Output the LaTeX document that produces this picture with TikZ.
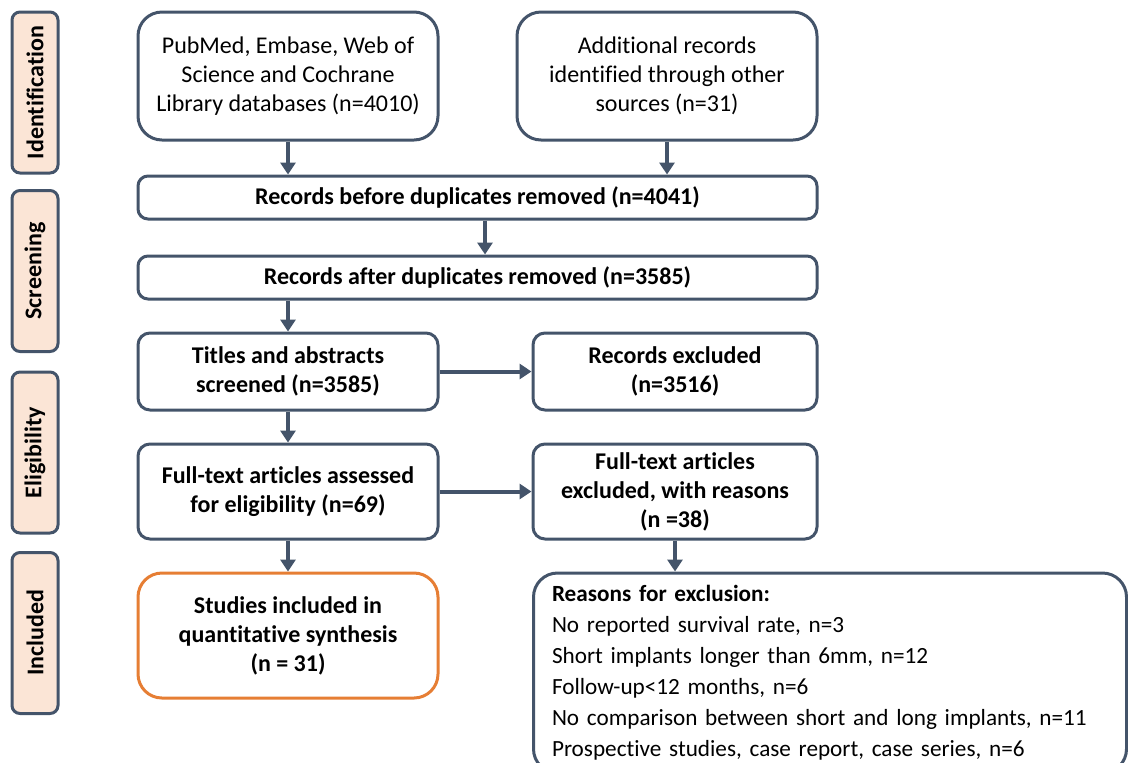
\documentclass[tikz,border=0pt]{standalone}
\usepackage{fontspec}
\setmainfont[Ligatures=NoCommon]{Carlito}
\usetikzlibrary{arrows.meta}
\definecolor{slate}{RGB}{68,84,106}
\definecolor{peach}{RGB}{251,229,214}
\definecolor{incl}{RGB}{230,126,52}
\tikzset{
  box/.style={draw=slate, line width=1.5pt, rounded corners=6pt, align=center,
    inner sep=0pt, font=\fontsize{12}{14.5}\selectfont},
  bbox/.style={box, font=\bfseries\fontsize{12}{14.5}\selectfont},
  stage/.style={bbox, fill=peach, rotate=90, rounded corners=4pt,
    minimum width=80.5pt, minimum height=23pt},
  flow/.style={draw=slate, line width=2pt, -{Triangle[width=7.5pt,length=6pt]}}
}
\begin{document}
\begin{tikzpicture}[x=0.5pt, y=-0.5pt]
  \useasboundingbox (0,0) rectangle (1128,762);
  % stages
  \node[stage] (id)  at (35,92.5) {Identification};
  \node[stage] (scr) at (35,271)  {Screening};
  \node[stage] (eli) at (35,452.5) {Eligibility};
  \node[stage] (inc) at (35,633)  {Included};
  % identification
  \node[box, rounded corners=12pt, minimum width=150pt, minimum height=64pt] (db) at (288,76)
    {PubMed, Embase, Web of\\Science and Cochrane\\Library databases (n=4010)};
  \node[box, rounded corners=12pt, minimum width=150pt, minimum height=64pt] (other) at (667,76)
    {Additional records\\identified through other\\sources (n=31)};
  % screening
  \node[bbox, rounded corners=5pt, minimum width=339.5pt, minimum height=21.5pt] (before) at (477.5,197.5)
    {Records before duplicates removed (n=4041)};
  \node[bbox, rounded corners=5pt, minimum width=339.5pt, minimum height=21.5pt] (after) at (477.5,277.5)
    {Records after duplicates removed (n=3585)};
  \node[bbox, minimum width=150pt, minimum height=38.5pt] (titles) at (288,371.5)
    {Titles and abstracts\\screened (n=3585)};
  \node[bbox, minimum width=142pt, minimum height=38.5pt] (recex) at (675,371.5)
    {Records excluded\\(n=3516)};
  % eligibility
  \node[bbox, minimum width=150pt, minimum height=47.5pt] (full) at (288,491.5)
    {Full-text articles assessed\\for eligibility (n=69)};
  \node[bbox, minimum width=142pt, minimum height=47.5pt] (ftex) at (675,491.5)
    {Full-text articles\\excluded, with reasons\\(n =38)};
  % included
  \node[bbox, draw=incl, rounded corners=12pt, minimum width=150pt, minimum height=62.5pt] (studies) at (288,635.5)
    {Studies included in\\quantitative synthesis\\(n = 31)};
  \node[box, rounded corners=12pt, minimum width=296.5pt, minimum height=100pt, align=left,
    text width=278pt, font=\fontsize{11.6}{15.5}\selectfont] (reasons) at (830,673)
    {\textbf{Reasons for exclusion:}\\
     No reported survival rate, n=3\\
     Short implants longer than 6mm, n=12\\
     Follow-up<12 months, n=6\\
     No comparison between short and long implants, n=11\\
     Prospective studies, case report, case series, n=6};
  % arrows
  \path[every edge/.append style=flow]
        (db) edge (db |- before.north)
        (other) edge (other |- before.north)
        ([xshift=3.75pt]before.south) edge ([xshift=3.75pt]after.north)
        (titles.north |- after.south) edge (titles.north)
        (titles) edge (recex)
        (titles) edge (full)
        (full) edge (ftex)
        (full) edge (studies)
        (ftex) edge (ftex |- reasons.north);
\end{tikzpicture}
\end{document}
